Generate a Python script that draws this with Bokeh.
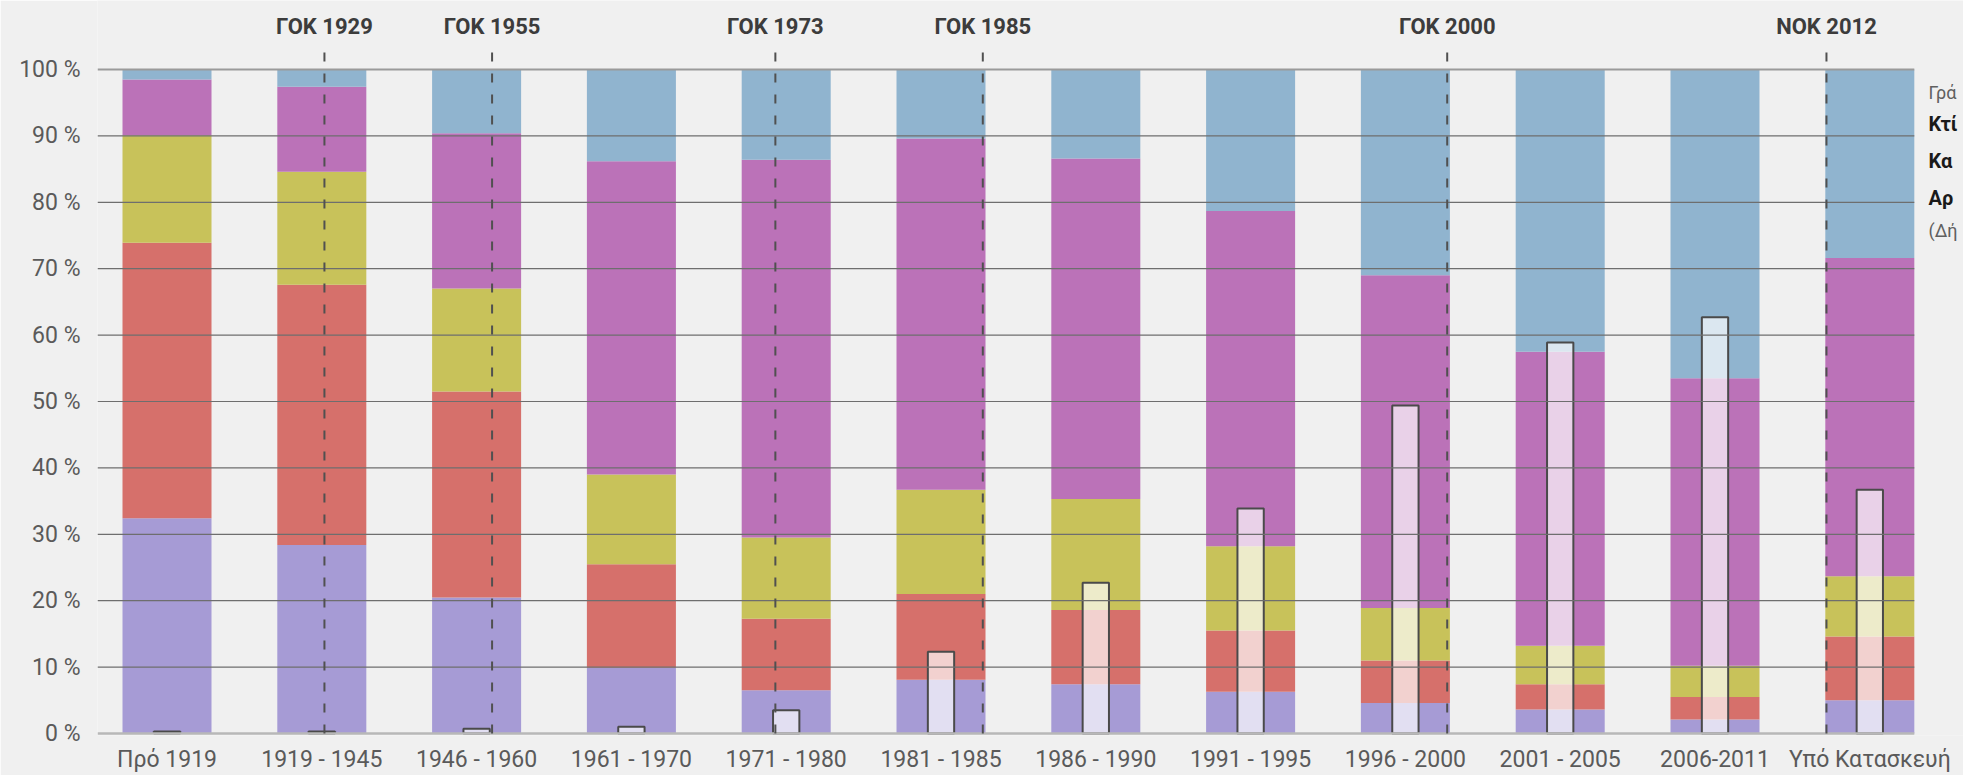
from bokeh.plotting import figure
from bokeh.models import Range1d, FixedTicker, ColumnDataSource
from bokeh.core.properties import value
from bokeh.embed import file_html
from bokeh.resources import INLINE

# ---------------- data ----------------
categories = ["Πρό 1919", "1919 - 1945", "1946 - 1960", "1961 - 1970",
              "1971 - 1980", "1981 - 1985", "1986 - 1990", "1991 - 1995",
              "1996 - 2000", "2001 - 2005", "2006-2011", "Υπό Κατασκευή"]
lavender = [32.4, 28.4, 20.5, 9.9, 6.5, 8.1, 7.4, 6.3, 4.6, 3.6, 2.1, 5.0]
red      = [41.5, 39.2, 31.0, 15.6, 10.8, 12.9, 11.2, 9.2, 6.4, 3.8, 3.4, 9.6]
yellow   = [16.2, 17.0, 15.5, 13.5, 12.2, 15.7, 16.7, 12.7, 7.9, 5.8, 4.7, 9.1]
magenta  = [8.4, 12.8, 23.4, 47.2, 56.9, 52.9, 51.3, 50.5, 50.1, 44.3, 43.3, 47.9]
blue     = [1.5, 2.6, 9.6, 13.8, 13.6, 10.4, 13.4, 21.3, 31.0, 42.5, 46.5, 28.4]
share    = [0.3, 0.3, 0.7, 1.0, 3.5, 12.3, 22.7, 33.9, 49.4, 58.9, 62.7, 36.7]

y_ticks = [0, 10, 20, 30, 40, 50, 60, 70, 80, 90, 100]
y_tick_labels = ["0 %", "10 %", "20 %", "30 %", "40 %", "50 %", "60 %",
                 "70 %", "80 %", "90 %", "100 %"]

reg_labels = ["ΓΟΚ 1929", "ΓΟΚ 1955", "ΓΟΚ 1973", "ΓΟΚ 1985", "ΓΟΚ 2000", "ΝΟΚ 2012"]
reg_pos = [1.017, 2.10, 3.93, 5.27, 8.27, 10.72]

note_light_top = ["Γρά"]
note_bold = ["Κτί", "Κα", "Αρ"]
note_light_bottom = ["(Δή"]

# ---------------- style / layout ----------------
BG = "#f0f0f0"
COLORS = ["#a69bd5", "#d6706b", "#c8c25a", "#bb72b8", "#90b4cf"]
FONT = "Roboto"
PX_X = 154.8          # pixels per category step
PX_Y = 6.64           # pixels per percent
W, H = 1963, 775
ML, MT = 97, 0
FRAME_BOTTOM = 735    # pixel row of the frame's lower edge
MB = H - FRAME_BOTTOM
ZERO_ROW = 733        # pixel row of the 0 % line
x_start = -0.449
x_end = x_start + (W - ML) / PX_X
y_start = -(FRAME_BOTTOM - ZERO_ROW) / PX_Y
y_end = (ZERO_ROW - MT) / PX_Y
BAR_W = 0.575
grid_x1 = len(categories) - 1 + BAR_W / 2


def row(px):
    return (ZERO_ROW - px) / PX_Y


p = figure(width=W, height=H,
           x_range=Range1d(x_start, x_end), y_range=Range1d(y_start, y_end),
           output_backend="svg", toolbar_location=None,
           min_border_left=ML, min_border_right=0, min_border_top=MT,
           min_border_bottom=MB,
           background_fill_color=BG, border_fill_color=BG,
           outline_line_color=None)
p.xgrid.visible = False
p.ygrid.visible = False

xs = list(range(len(categories)))
src = ColumnDataSource(dict(x=xs, lavender=lavender, red=red, yellow=yellow,
                            magenta=magenta, blue=blue))
p.vbar_stack(["lavender", "red", "yellow", "magenta", "blue"], x="x",
             width=BAR_W, color=COLORS, line_width=0, source=src)

# overlaid outline bars
p.vbar(x=xs, bottom=0, top=share, width=0.17, fill_color="white",
       fill_alpha=0.68, line_color="#4a4a4a", line_width=2)

# horizontal gridlines drawn over bars
inner = [t for t in y_ticks if 0 < t < 100]
p.segment(x0=[x_start] * len(inner), x1=[grid_x1] * len(inner),
          y0=inner, y1=inner, line_color="#6e6e6e", line_width=1.2)
p.segment(x0=[x_start], x1=[grid_x1], y0=[y_ticks[-1]], y1=[y_ticks[-1]],
          line_color="#9a9a9a", line_width=2)
p.segment(x0=[x_start], x1=[grid_x1], y0=[y_ticks[0]], y1=[y_ticks[0]],
          line_color="#b8b8b8", line_width=2.5)

# regulation markers
p.segment(x0=reg_pos, x1=reg_pos, y0=[0] * len(reg_pos),
          y1=[row(52)] * len(reg_pos),
          line_dash="9 12", line_color="#505050", line_width=2)
p.text(x=reg_pos, y=[row(25.5)] * len(reg_pos), text=reg_labels,
       text_font=value(FONT), text_font_style="bold",
       text_font_size="22px", text_align="center", text_baseline="middle",
       text_color="#3c3c3c")

# side note (only its beginning is visible in the original)
NOTE_X = x_start + (1928 - ML) / PX_X
p.text(x=[NOTE_X], y=[row(92)], text=note_light_top, text_font=value(FONT),
       text_font_size="18px", text_align="left", text_baseline="middle",
       text_color="#606060")
p.text(x=[NOTE_X] * 3, y=[row(123), row(160), row(197)], text=note_bold,
       text_font=value(FONT), text_font_style="bold", text_font_size="20px",
       text_align="left", text_baseline="middle", text_color="#1a1a1a")
p.text(x=[NOTE_X], y=[row(230)], text=note_light_bottom, text_font=value(FONT),
       text_font_size="18px", text_align="left", text_baseline="middle",
       text_color="#606060")

# axes
p.yaxis.ticker = FixedTicker(ticks=y_ticks)
p.yaxis.major_label_overrides = dict(zip(y_ticks, y_tick_labels))
p.xaxis.ticker = FixedTicker(ticks=xs)
p.xaxis.major_label_overrides = dict(zip(xs, categories))
for ax, standoff in ((p.yaxis, 17), (p.xaxis, 10)):
    ax.axis_line_color = None
    ax.major_tick_line_color = None
    ax.minor_tick_line_color = None
    ax.major_tick_in = 0
    ax.major_tick_out = 0
    ax.major_label_standoff = standoff
    ax.major_label_text_font = FONT
    ax.major_label_text_font_size = "23px"
    ax.major_label_text_color = "#5a5a5a"

open("out.html", "w").write(file_html(p, INLINE))
